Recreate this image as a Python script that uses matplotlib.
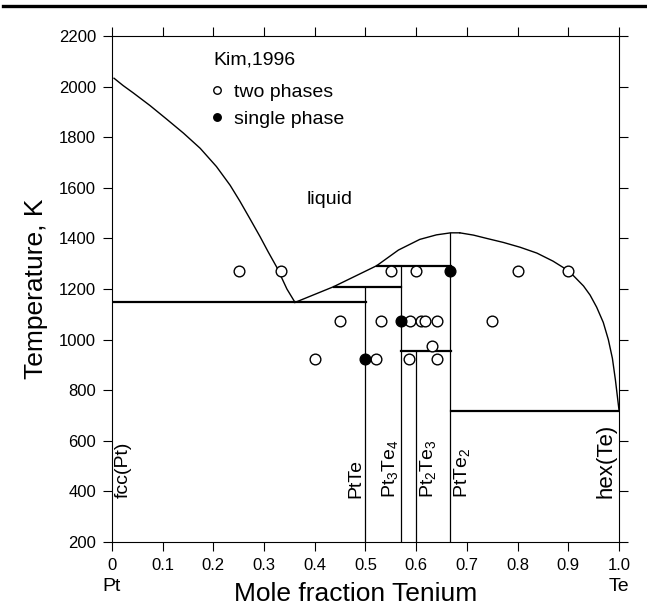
import numpy as np
import matplotlib.pyplot as plt
from matplotlib.lines import Line2D

plt.rcParams['font.family'] = ['Liberation Sans', 'DejaVu Sans']
plt.rcParams['mathtext.fontset'] = 'custom'
plt.rcParams['mathtext.rm'] = 'Liberation Sans'
plt.rcParams['mathtext.it'] = 'Liberation Sans:italic'

# liquidus, Pt-rich side
liq_pt_x = [0.004, 0.022, 0.042, 0.075, 0.108, 0.141, 0.174, 0.206, 0.233, 0.252,
            0.272, 0.292, 0.308, 0.325, 0.345, 0.361]
liq_pt_t = [2033, 2004, 1975, 1925, 1871, 1816, 1756, 1684, 1610, 1548,
            1478, 1407, 1347, 1286, 1200, 1147]

# liquidus, PtTe / PtTe2 region
liq_mid_x = [0.361, 0.437, 0.522, 0.565, 0.607, 0.640, 0.668, 0.686]
liq_mid_t = [1147, 1209, 1292, 1354, 1396, 1414, 1422, 1422]

# liquidus, Te-rich side
liq_te_x = [0.686, 0.713, 0.739, 0.772, 0.805, 0.838, 0.870, 0.890, 0.910, 0.930,
            0.943, 0.956, 0.969, 0.979, 0.987, 0.993, 1.0]
liq_te_t = [1422, 1413, 1400, 1384, 1365, 1342, 1310, 1285, 1253, 1212,
            1176, 1128, 1068, 1000, 926, 840, 722]

# invariant lines (x0, x1, T)
invariants = [
    (0.0, 0.501, 1147),
    (0.437, 0.571, 1209),
    (0.522, 0.668, 1292),
    (0.571, 0.668, 955),
    (0.668, 1.0, 719),
]

# compounds (x, top temperature, label, label side)
compounds = [
    (0.500, 1209, 'PtTe', 'left'),
    (0.571, 1292, 'Pt$_3$Te$_4$', 'left'),
    (0.600, 955, 'Pt$_2$Te$_3$', 'right'),
    (0.667, 1422, 'PtTe$_2$', 'right'),
]

# Kim, 1996 experimental points
two_x = [0.25, 0.333, 0.55, 0.60, 0.80, 0.90,
         0.45, 0.53, 0.587, 0.61, 0.618, 0.641, 0.75,
         0.631,
         0.40, 0.521, 0.586, 0.641]
two_t = [1273, 1273, 1273, 1273, 1273, 1273,
         1073, 1073, 1073, 1073, 1073, 1073, 1073,
         973,
         923, 923, 923, 923]
single_x = [0.50, 0.571, 0.667]
single_t = [923, 1073, 1273]

fig = plt.figure(figsize=(6.47, 6.09), dpi=100)
ax = fig.add_axes([0.1731, 0.11, 0.7836, 0.8309])

lc = 'black'
ax.plot(liq_pt_x, liq_pt_t, color=lc, lw=1.0)
ax.plot(liq_mid_x, liq_mid_t, color=lc, lw=1.0)
ax.plot(liq_te_x, liq_te_t, color=lc, lw=1.0)
for x0, x1, t in invariants:
    ax.plot([x0, x1], [t, t], color=lc, lw=1.6)
for x, t, name, side in compounds:
    ax.plot([x, x], [200, t], color=lc, lw=0.9)
    if side == 'left':
        ax.text(x - 0.003, 375, name, rotation=90, ha='right', va='bottom', fontsize=14)
    else:
        ax.text(x + 0.003, 375, name, rotation=90, ha='left', va='bottom', fontsize=14)

ax.text(0.005, 375, 'fcc(Pt)', rotation=90, ha='left', va='bottom', fontsize=14)
ax.text(0.995, 375, 'hex(Te)', rotation=90, ha='right', va='bottom', fontsize=16)
ax.text(0.383, 1552, 'liquid', ha='left', va='center', fontsize=14)

ax.plot(two_x, two_t, 'o', mfc='white', mec='black', mew=1.0, ms=7.7,
        label='two phases', linestyle='none')
ax.plot(single_x, single_t, 'o', mfc='black', mec='black', mew=1.0, ms=7.7,
        label='single phase', linestyle='none')

ax.text(0.199, 0.953, 'Kim,1996', transform=ax.transAxes, ha='left', va='center',
        fontsize=14)
ax.legend(loc='upper left', bbox_to_anchor=(0.195, 0.906), frameon=False,
          fontsize=14, markerscale=0.7, borderpad=0, borderaxespad=0,
          handlelength=0.6, handletextpad=0.6, labelspacing=0.45)

ax.set_xlim(0, 1.0)
ax.set_ylim(200, 2200)
ax.set_xticks(np.arange(0, 1.01, 0.1))
ax.set_yticks(np.arange(200, 2201, 200))
ax.set_xticklabels(['0', '0.1', '0.2', '0.3', '0.4', '0.5', '0.6', '0.7', '0.8', '0.9', '1.0'])
ax.tick_params(direction='out', length=6.5, width=0.8, labelsize=12, pad=5,
               top=True, right=True, colors='black')
for s in ax.spines.values():
    s.set_linewidth(0.8)

ax.set_xlabel('Mole fraction Tenium', fontsize=19)
ax.set_ylabel('Temperature, K', fontsize=19, labelpad=8)
ax.xaxis.set_label_coords(0.48, -0.08)

tr = ax.get_xaxis_transform()
ax.text(0, -0.087, 'Pt', transform=tr, ha='center', va='center', fontsize=14)
ax.text(1.0, -0.087, 'Te', transform=tr, ha='center', va='center', fontsize=14)

fig.add_artist(Line2D([0.005, 1.0], [0.9895, 0.9895], color='black', lw=2.4,
                      transform=fig.transFigure))

fig.savefig('out.png', dpi=100)
